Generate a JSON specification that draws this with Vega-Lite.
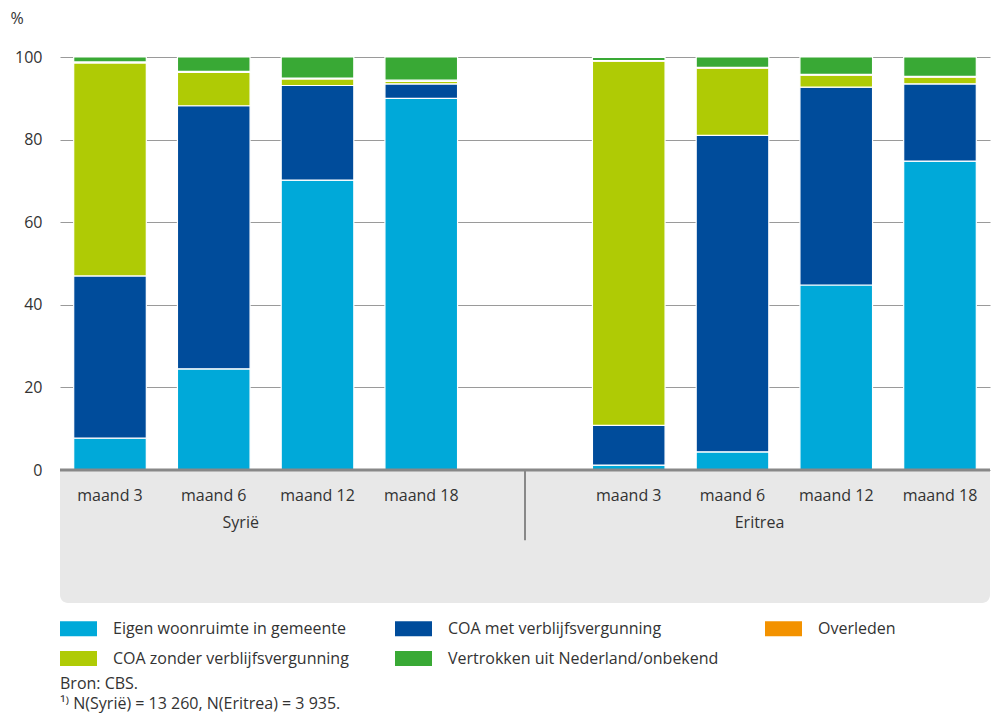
{
  "$schema": "https://vega.github.io/schema/vega-lite/v6.json",
  "autosize": "none",
  "width": 930,
  "height": 546,
  "padding": {"left": 60, "top": 57, "right": 1, "bottom": 113},
  "background": "white",
  "config": {"font": "Open Sans", "view": {"stroke": null}},
  "datasets": {
    "bars": [
      {"kolom": "Syrië|maand 3", "land": "Syrië", "maand": "maand 3", "categorie": "Eigen woonruimte in gemeente", "pct": 7.7},
      {"kolom": "Syrië|maand 3", "land": "Syrië", "maand": "maand 3", "categorie": "COA met verblijfsvergunning", "pct": 39.3},
      {"kolom": "Syrië|maand 3", "land": "Syrië", "maand": "maand 3", "categorie": "COA zonder verblijfsvergunning", "pct": 51.6},
      {"kolom": "Syrië|maand 3", "land": "Syrië", "maand": "maand 3", "categorie": "Overleden", "pct": 0.2},
      {"kolom": "Syrië|maand 3", "land": "Syrië", "maand": "maand 3", "categorie": "Vertrokken uit Nederland/onbekend", "pct": 1.2},
      {"kolom": "Syrië|maand 6", "land": "Syrië", "maand": "maand 6", "categorie": "Eigen woonruimte in gemeente", "pct": 24.5},
      {"kolom": "Syrië|maand 6", "land": "Syrië", "maand": "maand 6", "categorie": "COA met verblijfsvergunning", "pct": 63.7},
      {"kolom": "Syrië|maand 6", "land": "Syrië", "maand": "maand 6", "categorie": "COA zonder verblijfsvergunning", "pct": 8.1},
      {"kolom": "Syrië|maand 6", "land": "Syrië", "maand": "maand 6", "categorie": "Overleden", "pct": 0.2},
      {"kolom": "Syrië|maand 6", "land": "Syrië", "maand": "maand 6", "categorie": "Vertrokken uit Nederland/onbekend", "pct": 3.5},
      {"kolom": "Syrië|maand 12", "land": "Syrië", "maand": "maand 12", "categorie": "Eigen woonruimte in gemeente", "pct": 70.2},
      {"kolom": "Syrië|maand 12", "land": "Syrië", "maand": "maand 12", "categorie": "COA met verblijfsvergunning", "pct": 22.9},
      {"kolom": "Syrië|maand 12", "land": "Syrië", "maand": "maand 12", "categorie": "COA zonder verblijfsvergunning", "pct": 1.6},
      {"kolom": "Syrië|maand 12", "land": "Syrië", "maand": "maand 12", "categorie": "Overleden", "pct": 0.2},
      {"kolom": "Syrië|maand 12", "land": "Syrië", "maand": "maand 12", "categorie": "Vertrokken uit Nederland/onbekend", "pct": 5.1},
      {"kolom": "Syrië|maand 18", "land": "Syrië", "maand": "maand 18", "categorie": "Eigen woonruimte in gemeente", "pct": 90.0},
      {"kolom": "Syrië|maand 18", "land": "Syrië", "maand": "maand 18", "categorie": "COA met verblijfsvergunning", "pct": 3.5},
      {"kolom": "Syrië|maand 18", "land": "Syrië", "maand": "maand 18", "categorie": "COA zonder verblijfsvergunning", "pct": 0.6},
      {"kolom": "Syrië|maand 18", "land": "Syrië", "maand": "maand 18", "categorie": "Overleden", "pct": 0.3},
      {"kolom": "Syrië|maand 18", "land": "Syrië", "maand": "maand 18", "categorie": "Vertrokken uit Nederland/onbekend", "pct": 5.6},
      {"kolom": "Eritrea|maand 3", "land": "Eritrea", "maand": "maand 3", "categorie": "Eigen woonruimte in gemeente", "pct": 1.2},
      {"kolom": "Eritrea|maand 3", "land": "Eritrea", "maand": "maand 3", "categorie": "COA met verblijfsvergunning", "pct": 9.6},
      {"kolom": "Eritrea|maand 3", "land": "Eritrea", "maand": "maand 3", "categorie": "COA zonder verblijfsvergunning", "pct": 88.2},
      {"kolom": "Eritrea|maand 3", "land": "Eritrea", "maand": "maand 3", "categorie": "Overleden", "pct": 0.1},
      {"kolom": "Eritrea|maand 3", "land": "Eritrea", "maand": "maand 3", "categorie": "Vertrokken uit Nederland/onbekend", "pct": 0.8},
      {"kolom": "Eritrea|maand 6", "land": "Eritrea", "maand": "maand 6", "categorie": "Eigen woonruimte in gemeente", "pct": 4.4},
      {"kolom": "Eritrea|maand 6", "land": "Eritrea", "maand": "maand 6", "categorie": "COA met verblijfsvergunning", "pct": 76.6},
      {"kolom": "Eritrea|maand 6", "land": "Eritrea", "maand": "maand 6", "categorie": "COA zonder verblijfsvergunning", "pct": 16.3},
      {"kolom": "Eritrea|maand 6", "land": "Eritrea", "maand": "maand 6", "categorie": "Overleden", "pct": 0.2},
      {"kolom": "Eritrea|maand 6", "land": "Eritrea", "maand": "maand 6", "categorie": "Vertrokken uit Nederland/onbekend", "pct": 2.5},
      {"kolom": "Eritrea|maand 12", "land": "Eritrea", "maand": "maand 12", "categorie": "Eigen woonruimte in gemeente", "pct": 44.8},
      {"kolom": "Eritrea|maand 12", "land": "Eritrea", "maand": "maand 12", "categorie": "COA met verblijfsvergunning", "pct": 47.9},
      {"kolom": "Eritrea|maand 12", "land": "Eritrea", "maand": "maand 12", "categorie": "COA zonder verblijfsvergunning", "pct": 2.9},
      {"kolom": "Eritrea|maand 12", "land": "Eritrea", "maand": "maand 12", "categorie": "Overleden", "pct": 0.2},
      {"kolom": "Eritrea|maand 12", "land": "Eritrea", "maand": "maand 12", "categorie": "Vertrokken uit Nederland/onbekend", "pct": 4.2},
      {"kolom": "Eritrea|maand 18", "land": "Eritrea", "maand": "maand 18", "categorie": "Eigen woonruimte in gemeente", "pct": 74.8},
      {"kolom": "Eritrea|maand 18", "land": "Eritrea", "maand": "maand 18", "categorie": "COA met verblijfsvergunning", "pct": 18.7},
      {"kolom": "Eritrea|maand 18", "land": "Eritrea", "maand": "maand 18", "categorie": "COA zonder verblijfsvergunning", "pct": 1.6},
      {"kolom": "Eritrea|maand 18", "land": "Eritrea", "maand": "maand 18", "categorie": "Overleden", "pct": 0.2},
      {"kolom": "Eritrea|maand 18", "land": "Eritrea", "maand": "maand 18", "categorie": "Vertrokken uit Nederland/onbekend", "pct": 4.7}
    ],
    "landen": [
      {"kolom": "Syrië|maand 6", "land": "Syrië"},
      {"kolom": "Eritrea|maand 6", "land": "Eritrea"}
    ]
  },
  "title": {
    "text": ["Bron: CBS.", "¹⁾ N(Syrië) = 13 260, N(Eritrea) = 3 935."],
    "orient": "bottom",
    "anchor": "start",
    "frame": "group",
    "offset": 9,
    "fontSize": 16,
    "fontWeight": "normal",
    "color": "#333333",
    "lineHeight": 20
  },
  "layer": [
    {
      "data": {"values": [{"panel": 1}]},
      "mark": {"type": "rect", "color": "#e8e8e8", "cornerRadiusBottomLeft": 8, "cornerRadiusBottomRight": 8},
      "encoding": {
        "y": {"datum": -32.2, "type": "quantitative", "scale": {"domain": [-32.2, 100], "nice": false, "zero": false},
          "axis": {"values": [0, 20, 40, 60, 80, 100], "title": "%", "titleAngle": 0, "titleAlign": "left", "titleBaseline": "alphabetic", "titleX": -50, "titleY": -34, "titleFontSize": 16, "titleFontWeight": "normal", "titleColor": "#333333", "labelFontSize": 16, "labelColor": "#333333", "labelPadding": 18, "ticks": false, "domain": false, "grid": true, "gridColor": "#9a9a9a", "gridWidth": 1.2}},
        "y2": {"datum": 0}
      }
    },
    {
      "data": {"name": "bars"},
      "transform": [
        {"calculate": "indexof(['Eigen woonruimte in gemeente','COA met verblijfsvergunning','COA zonder verblijfsvergunning','Overleden','Vertrokken uit Nederland/onbekend'], datum.categorie)", "as": "volgorde"}
      ],
      "mark": {"type": "bar", "stroke": "white", "strokeWidth": 1.2},
      "encoding": {
        "x": {"field": "kolom", "type": "nominal", "axis": null,
          "scale": {"type": "band", "domain": ["Syrië|maand 3", "Syrië|maand 6", "Syrië|maand 12", "Syrië|maand 18", " ", "Eritrea|maand 3", "Eritrea|maand 6", "Eritrea|maand 12", "Eritrea|maand 18"], "paddingInner": 0.3, "paddingOuter": 0.132}},
        "y": {"field": "pct", "type": "quantitative", "stack": "zero", "title": "%"},
        "order": {"field": "volgorde", "type": "quantitative", "sort": "ascending"},
        "color": {
          "field": "categorie", "type": "nominal",
          "scale": {
            "domain": ["Eigen woonruimte in gemeente", "COA zonder verblijfsvergunning", "COA met verblijfsvergunning", "Vertrokken uit Nederland/onbekend", "Overleden"],
            "range": ["#00a9d9", "#afcb05", "#004c9b", "#39a935", "#f39200"]
          },
          "legend": {
            "orient": "none", "legendX": 0, "legendY": 553, "columns": 3, "gridAlign": "each",
            "columnPadding": 46, "rowPadding": 3, "title": null,
            "symbolType": "M-1,-0.405H1V0.405H-1Z", "symbolSize": 1369, "symbolStrokeWidth": 0,
            "labelFontSize": 16, "labelColor": "#333333", "labelOffset": 16, "labelLimit": 400
          }
        }
      }
    },
    {
      "data": {"values": [{"basis": 0}]},
      "mark": {"type": "rule", "color": "#888888", "strokeWidth": 3},
      "encoding": {"y": {"datum": 0}}
    },
    {
      "data": {"values": [{"scheiding": 1}]},
      "mark": {"type": "rule", "color": "#888888", "strokeWidth": 2},
      "encoding": {"x": {"datum": " "}, "y": {"datum": 0}, "y2": {"datum": -17}}
    },
    {
      "data": {"name": "bars"},
      "transform": [{"filter": "datum.categorie == 'Eigen woonruimte in gemeente'"}],
      "mark": {"type": "text", "fontSize": 16, "color": "#333333", "baseline": "middle"},
      "encoding": {"x": {"field": "kolom", "type": "nominal"}, "y": {"datum": -6.3}, "text": {"field": "maand"}}
    },
    {
      "data": {"name": "landen"},
      "mark": {"type": "text", "fontSize": 16, "color": "#333333", "baseline": "middle", "dx": 27},
      "encoding": {"x": {"field": "kolom", "type": "nominal"}, "y": {"datum": -12.8}, "text": {"field": "land"}}
    }
  ]
}
